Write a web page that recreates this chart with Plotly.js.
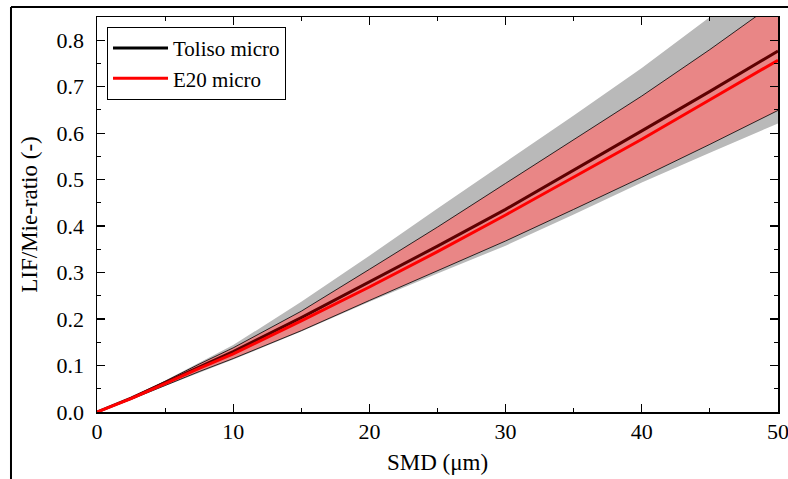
<!DOCTYPE html>
<html><head><meta charset="utf-8">
<script src="https://cdn.plot.ly/plotly-3.0.1.min.js"></script>
<style>body{margin:0;background:#fff}#chart{width:788px;height:479px}</style>
</head><body><div id="chart"></div>
<script>
const smd = [0, 2.5, 5, 7.5, 10, 15, 20, 25, 30, 35, 40, 45, 50];
const tolisoMean  = [0, 0.030, 0.063, 0.097, 0.130, 0.203, 0.280, 0.357, 0.436, 0.520, 0.605, 0.690, 0.777];
const tolisoUpper = [0, 0.032, 0.068, 0.106, 0.144, 0.237, 0.336, 0.438, 0.538, 0.638, 0.740, 0.850, 0.965];
const tolisoLower = [0, 0.027, 0.056, 0.085, 0.113, 0.173, 0.237, 0.298, 0.358, 0.425, 0.494, 0.558, 0.621];
const e20Mean  = [0, 0.029, 0.061, 0.094, 0.125, 0.196, 0.269, 0.345, 0.424, 0.505, 0.587, 0.672, 0.757];
const e20Upper = [0, 0.031, 0.066, 0.103, 0.138, 0.217, 0.307, 0.398, 0.492, 0.586, 0.680, 0.780, 0.885];
const e20Lower = [0, 0.027, 0.057, 0.087, 0.115, 0.175, 0.240, 0.304, 0.368, 0.436, 0.505, 0.576, 0.649];
const seriesNames = ['Toliso micro', 'E20 micro'];

const font = 'Liberation Serif, Times New Roman, serif';
const traces = [
  {x: smd, y: tolisoLower, mode: 'lines', line: {width: 0, color: 'rgba(0,0,0,0)'}, showlegend: false, hoverinfo: 'skip'},
  {x: smd, y: tolisoUpper, mode: 'lines', fill: 'tonexty', fillcolor: '#b9b9b9', line: {width: 0, color: 'rgba(0,0,0,0)'}, showlegend: false, hoverinfo: 'skip'},
  {x: smd, y: e20Lower, mode: 'lines', line: {width: 0.8, color: '#000'}, showlegend: false, hoverinfo: 'skip'},
  {x: smd, y: e20Upper, mode: 'lines', fill: 'tonexty', fillcolor: '#e98686', line: {width: 0.8, color: '#000'}, showlegend: false, hoverinfo: 'skip'},
  {x: smd, y: tolisoMean, mode: 'lines', line: {width: 3, color: '#5e0000'}, showlegend: false},
  {x: smd, y: e20Mean, mode: 'lines', line: {width: 3, color: '#ff0000'}, showlegend: false},
  {x: [null], y: [null], mode: 'lines', name: seriesNames[0], line: {width: 3, color: '#000'}},
  {x: [null], y: [null], mode: 'lines', name: seriesNames[1], line: {width: 3, color: '#ff0000'}}
];

const axisCommon = {
  showline: true, linecolor: '#000', linewidth: 1.5, mirror: 'allticks',
  ticks: 'inside', ticklen: 8, tickwidth: 1.3, tickcolor: '#000',
  showgrid: false, zeroline: false, ticklabeloverflow: 'allow',
  tickfont: {family: font, size: 22, color: '#000'},
  minor: {ticks: 'inside', ticklen: 4, tickwidth: 1.1, tickcolor: '#000', showgrid: false}
};

const layout = {
  width: 788, height: 479,
  margin: {l: 97, r: 10, t: 17, b: 67},
  paper_bgcolor: '#fff', plot_bgcolor: '#fff',
  showlegend: true,
  legend: {x: 0.0147, y: 0.975, xanchor: 'left', yanchor: 'top', bgcolor: '#fff',
    bordercolor: '#000', borderwidth: 1, font: {family: font, size: 21, color: '#000'},
    itemwidth: 55, tracegroupgap: 0, traceorder: 'normal'},
  xaxis: Object.assign({}, axisCommon, {
    range: [0, 50], dtick: 10, minor: Object.assign({}, axisCommon.minor, {dtick: 5}),
    title: {text: 'SMD (μm)', font: {family: font, size: 23, color: '#000'}, standoff: 11},
    ticklabelstandoff: -1
  }),
  yaxis: Object.assign({}, axisCommon, {
    range: [0, 0.85], dtick: 0.1, tickformat: '.1f', minor: Object.assign({}, axisCommon.minor, {dtick: 0.05}),
    title: {text: 'LIF/Mie-ratio (-)', font: {family: font, size: 23, color: '#000'}, standoff: 12},
    ticklabelstandoff: 7
  }),
  shapes: [
    {type: 'line', xref: 'paper', yref: 'paper', x0: -0.1263, x1: -0.1263, y0: -0.25, y1: 1.0253, line: {color: '#000', width: 2}},
    {type: 'line', xref: 'paper', yref: 'paper', x0: -0.1263, x1: 1.02, y0: 1.0253, y1: 1.0253, line: {color: '#000', width: 2}}
  ]
};

Plotly.newPlot('chart', traces, layout, {displayModeBar: false, staticPlot: true});
</script></body></html>
